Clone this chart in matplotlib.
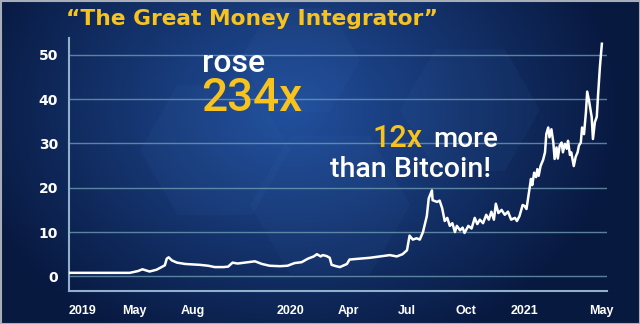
import numpy as np
import matplotlib
matplotlib.use("Agg")
import matplotlib.pyplot as plt
from matplotlib.patches import Rectangle, RegularPolygon

# days since 2019-01-01 and price multiple
day = [18, 66, 113, 126, 133, 144, 155, 163, 168, 171, 174, 179, 187, 200,
       212, 223, 236, 246, 260, 267, 274, 282, 293, 309, 320, 332, 348, 360,
       371, 382, 392, 401, 406, 412, 415, 421, 426, 429, 436, 442, 453, 457,
       473, 489, 504, 520, 531, 540, 547, 551, 556, 562, 567, 572, 578, 581,
       586, 587, 594,
       598, 602, 606, 610, 614, 618, 622, 625, 630, 634, 637, 643, 648, 653,
       657, 661, 666, 671, 675, 679, 683, 686, 690, 695, 700, 705, 710, 716,
       719, 723, 728,
       731, 734, 737, 739, 741, 743, 746, 749, 751, 753, 756, 760, 763, 765,
       768, 770, 773, 776, 778, 781, 783, 786, 789, 791, 794, 797, 799, 802,
       804, 808, 811, 814, 816, 819, 821, 824, 827, 829, 832, 836, 838, 841,
       844, 846, 849, 852]
value = [0.8, 0.8, 0.8, 1.2, 1.6, 1.1, 1.5, 2.1, 2.5, 4.0, 4.3, 3.6, 3.1, 2.8,
         2.7, 2.6, 2.4, 2.1, 2.1, 2.2, 3.1, 2.9, 3.1, 3.4, 2.8, 2.4, 2.3, 2.4,
         3.0, 3.2, 4.0, 4.5, 5.0, 4.5, 4.8, 4.6, 4.2, 2.6, 2.3, 2.1, 2.8, 3.8,
         4.0, 4.2, 4.5, 4.8, 4.5, 5.0, 5.9, 9.2, 8.3, 8.6, 8.3, 10.0, 13.6, 17.6,
         19.4, 17.2, 16.8,
         17.1, 15.4, 12.5, 13.2, 11.4, 12.0, 10.0, 11.4, 10.4, 11.0, 9.8, 11.4, 10.8, 13.2,
         11.8, 12.8, 12.0, 13.9, 12.8, 14.6, 12.8, 16.4, 14.3, 15.0, 13.9, 14.6, 12.8, 13.2,
         12.5, 13.6, 16.1,
         15.9, 15.2, 18.1, 19.9, 22.0, 20.6, 23.4, 22.4, 24.2, 22.7, 24.9, 26.3, 28.0, 32.1,
         33.6, 31.4, 33.2, 30.2, 26.5, 29.1, 26.6, 29.5, 30.2, 28.0, 29.9, 28.8, 30.6, 27.4,
         28.0, 24.9, 27.0, 28.0, 29.5, 30.2, 33.6, 32.1, 37.0, 41.7, 39.5, 36.0, 31.0, 34.8,
         36.0, 40.9, 47.5, 52.5]

tick_dates = ["2019-05-01", "2019-08-01", "2020-01-01", "2020-04-01",
              "2020-07-01", "2020-10-01", "2021-01-01", "2021-05-01"]
tick_labels = ["May", "Aug", "2020", "Apr", "Jul", "Oct", "2021", "May"]
y_ticks = [0, 10, 20, 30, 40, 50]

start = np.datetime64("2019-01-01")
dates = start + np.array(day).astype("timedelta64[D]")

W, H = 640, 324
fig = plt.figure(figsize=(W / 100, H / 100), dpi=100)

# background gradient
bg = fig.add_axes([0, 0, 1, 1])
yy, xx = np.mgrid[0:H, 0:W]
d = np.sqrt(((xx - 290) / 330.0) ** 2 + ((yy - 110) / 260.0) ** 2)
d = np.clip(d, 0, 1)
c0 = np.array([34, 80, 158]) / 255.0
c1 = np.array([8, 25, 64]) / 255.0
img = c0[None, None, :] * (1 - d[..., None]) + c1[None, None, :] * d[..., None]
bg.imshow(img, extent=[0, W, H, 0], aspect="auto")
# faint hex shapes
for (hx, hy, r) in [(215, 150, 75), (330, 205, 80), (470, 110, 70), (300, 60, 60)]:
    bg.add_patch(RegularPolygon((hx, hy), 6, radius=r, orientation=np.pi / 6,
                                facecolor="#4f86d0", alpha=0.06, edgecolor="none"))
bg.add_patch(Rectangle((0.5, 0.5), W - 1, H - 1, fill=False, edgecolor="#a8aeb8", lw=1.5))
bg.set_xlim(0, W)
bg.set_ylim(H, 0)
bg.axis("off")

ax = fig.add_axes([69 / W, 1 - 291 / H, (607 - 69) / W, (291 - 38) / H])
ax.patch.set_alpha(0)
ax.plot(dates, value, color="white", lw=1.8, zorder=3)

ax.set_xlim(start + np.timedelta64(18, "D"), start + np.timedelta64(860, "D"))
ax.set_ylim(-3.3, 53.8)
ax.set_yticks(y_ticks)
ax.grid(axis="y", color="#6d9bb3", lw=1.0, alpha=0.8)
ax.set_axisbelow(True)

tick_pos = [np.datetime64(t) for t in tick_dates]
ax.set_xticks([start + np.timedelta64(18, "D")] + tick_pos)
ax.set_xticklabels(["2019"] + tick_labels)
ax.get_xticklabels()[0].set_horizontalalignment("left")

for lab in ax.get_xticklabels():
    lab.set_fontsize(9)
    lab.set_family("Liberation Sans")
for lab in ax.get_yticklabels():
    lab.set_fontsize(10)
    lab.set_family("DejaVu Sans")
for lab in ax.get_xticklabels() + ax.get_yticklabels():
    lab.set_color("white")
    lab.set_fontweight("bold")
ax.tick_params(length=0)
ax.tick_params(axis="x", pad=10)
ax.tick_params(axis="y", pad=8)

for s in ["top", "right"]:
    ax.spines[s].set_visible(False)
for s in ["left", "bottom"]:
    ax.spines[s].set_color("#8fb1c9")
    ax.spines[s].set_linewidth(1.5)

yellow = "#f7c31c"
def ftext(x, y, s, fam="Roboto", **kw):
    fig.text(x / W, 1 - y / H, s, family=fam, va="baseline", **kw)

ftext(66, 25, "\u201cThe Great Money Integrator\u201d", fam="DejaVu Sans", color=yellow, fontsize=15.7, fontweight="bold")
ftext(202, 72, "rose", color="white", fontsize=23, fontweight="medium")
ftext(201, 111, "234x", color=yellow, fontsize=33, fontweight="medium")
ftext(372, 147, "12x", color=yellow, fontsize=22, fontweight="medium")
ftext(433, 147, "more", color="white", fontsize=20, fontweight="medium")
ftext(330, 177, "than Bitcoin!", color="white", fontsize=20.5, fontweight="medium")

fig.savefig("out.png", dpi=100)
